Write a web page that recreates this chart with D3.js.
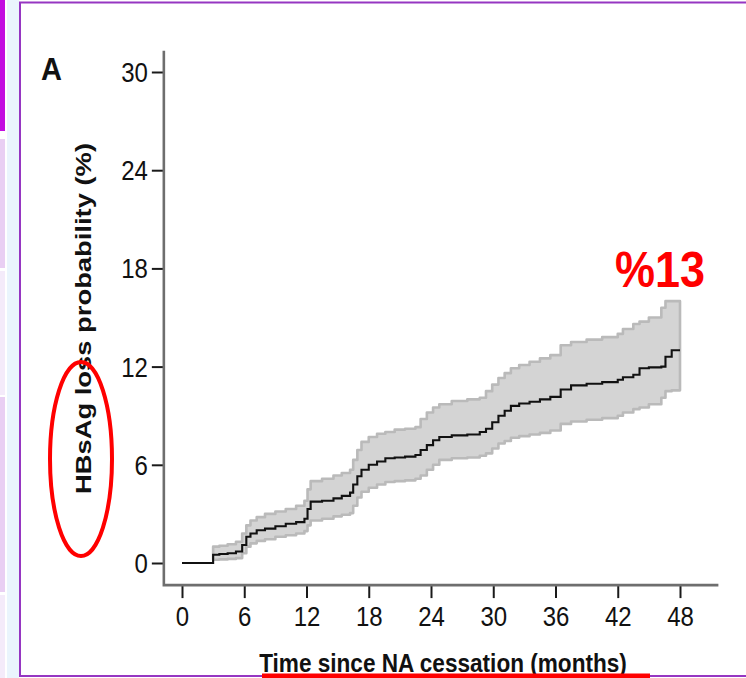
<!DOCTYPE html>
<html>
<head>
<meta charset="utf-8">
<script src="https://cdn.jsdelivr.net/npm/d3@7"></script>
<style>
  html, body { margin: 0; padding: 0; background: #fff; }
  svg { display: block; }
</style>
</head>
<body>
<svg id="chart" width="746" height="678"></svg>
<script>
// Kaplan-Meier cumulative probability of HBsAg loss (%), with 95% CI band
const months   = [0, 3.0, 3.6, 4.4, 5.2, 5.8, 6.2, 6.6, 7.2, 8.0, 9.0, 10.0, 11.0, 11.8, 12.1, 12.4, 13.5, 14.6, 15.4, 16.2, 16.5, 16.9, 17.3, 18.0, 18.8, 19.6, 20.5, 21.5, 22.5, 23.0, 23.6, 24.2, 24.8, 26.0, 27.5, 28.7, 29.3, 29.9, 30.5, 31.1, 31.7, 32.5, 33.5, 34.5, 35.5, 36.5, 37.5, 39.0, 40.5, 42.0, 42.5, 43.5, 44.1, 45.0, 46.2, 46.6, 47.2, 48.0];
const estimate = [0, 0.5, 0.55, 0.6, 0.7, 1.1, 1.6, 1.8, 2.0, 2.1, 2.25, 2.4, 2.5, 2.7, 3.3, 3.75, 3.8, 3.95, 4.1, 4.3, 4.8, 5.3, 5.7, 6.0, 6.2, 6.4, 6.45, 6.5, 6.6, 6.9, 7.2, 7.5, 7.7, 7.8, 7.85, 8.0, 8.2, 8.6, 9.0, 9.3, 9.6, 9.75, 9.85, 10.0, 10.15, 10.6, 10.85, 10.95, 11.05, 11.2, 11.35, 11.5, 11.9, 11.95, 12.0, 12.6, 13.0, 13.0];
const upper    = [0, 1.0, 1.05, 1.15, 1.3, 1.8, 2.3, 2.6, 2.8, 3.0, 3.15, 3.3, 3.5, 3.8, 4.5, 5.0, 5.15, 5.35, 5.5, 5.7, 6.3, 6.9, 7.4, 7.7, 7.9, 8.0, 8.15, 8.2, 8.3, 8.8, 9.2, 9.5, 9.7, 9.9, 10.0, 10.1, 10.5, 10.9, 11.3, 11.6, 11.9, 12.1, 12.3, 12.5, 12.7, 13.3, 13.5, 13.65, 13.8, 14.0, 14.3, 14.6, 14.75, 15.0, 15.6, 16.0, 16.0, 16.0];
const lower    = [0, 0.2, 0.22, 0.25, 0.3, 0.6, 1.0, 1.2, 1.35, 1.45, 1.6, 1.7, 1.8, 1.95, 2.3, 2.6, 2.7, 2.85, 2.95, 3.05, 3.5, 4.0, 4.35, 4.6, 4.8, 4.95, 5.0, 5.05, 5.15, 5.35, 5.7, 6.0, 6.3, 6.4, 6.45, 6.55, 6.7, 7.0, 7.3, 7.45, 7.65, 7.75, 7.85, 7.95, 8.1, 8.5, 8.65, 8.75, 8.85, 9.0, 9.2, 9.4, 9.5, 9.7, 10.1, 10.5, 10.55, 10.55];

const xTickValues = [0, 6, 12, 18, 24, 30, 36, 42, 48];
const yTickValues = [0, 6, 12, 18, 24, 30];

const panelLabel = "A";
const yTitle = "HBsAg loss probability (%)";
const xTitle = "Time since NA cessation (months)";
const finalLabel = "%13";

const svg = d3.select("#chart");
const W = 746, H = 678;
const stretch = 1.17;   // text in the figure is drawn slightly taller than wide

// ---- page chrome: side navigation strips and framed slide ----
const strips = [
  { y0: 0,   y1: 131, c: "#c20ce0" },
  { y0: 139, y1: 268, c: "#e9cff3" },
  { y0: 271, y1: 395, c: "#f4ebfa" },
  { y0: 397, y1: 592, c: "#e9cff3" },
  { y0: 595, y1: 678, c: "#f4ebfa" }
];
svg.selectAll("rect.strip").data(strips).join("rect")
  .attr("class", "strip")
  .attr("x", 0).attr("width", 5)
  .attr("y", d => d.y0).attr("height", d => d.y1 - d.y0)
  .attr("fill", d => d.c);
svg.append("rect").attr("x", 7).attr("y", 0).attr("width", 12).attr("height", H).attr("fill", "#eaf5fd");
svg.append("rect").attr("x", 20).attr("y", 2.5).attr("width", W - 18).attr("height", 673.5)
  .attr("fill", "#fff").attr("stroke", "#9636c2").attr("stroke-width", 2);

// ---- scales ----
const x = d3.scaleLinear().domain([0, 48]).range([182, 680]);
const y = d3.scaleLinear().domain([0, 30]).range([563, 72]);

const rows = months.map((t, i) => ({ t, est: estimate[i], hi: upper[i], lo: lower[i] }));

// ---- confidence band ----
const band = d3.area()
  .x(d => x(d.t)).y0(d => y(d.lo)).y1(d => y(d.hi))
  .curve(d3.curveStepAfter);
svg.append("path")
  .datum(rows.filter(d => d.t >= 3))
  .attr("d", band)
  .attr("fill", "#d4d4d4")
  .attr("stroke", "#bababa")
  .attr("stroke-width", 2.6)
  .attr("stroke-linejoin", "round");

// ---- survival-type step curve ----
const line = d3.line().x(d => x(d.t)).y(d => y(d.est)).curve(d3.curveStepAfter);
svg.append("path")
  .datum(rows)
  .attr("d", line)
  .attr("fill", "none")
  .attr("stroke", "#111")
  .attr("stroke-width", 2.1);

// ---- axes ----
const axisColor = "#6e6e6e";
const tickFont = "'Liberation Sans Narrow', 'Liberation Sans', Arial, sans-serif";

const yAxis = svg.append("g").attr("transform", `translate(${x(-1.75)},0)`)
  .call(d3.axisLeft(y).tickValues(yTickValues).tickSize(12).tickPadding(4).tickFormat(d3.format("d")));
yAxis.select(".domain").remove();
yAxis.selectAll(".tick line").attr("stroke", "#1a1a1a").attr("stroke-width", 2);
yAxis.selectAll(".tick text")
  .attr("font-family", tickFont).attr("font-size", 24).attr("fill", "#111")
  .attr("dy", "0.34em")
  .attr("transform", `scale(1,${stretch})`);

const xAxis = svg.append("g").attr("transform", `translate(0,${y(-1.35)})`)
  .call(d3.axisBottom(x).tickValues(xTickValues).tickSize(13).tickPadding(0).tickFormat(d3.format("d")));
xAxis.select(".domain").remove();
xAxis.selectAll(".tick line").attr("stroke", "#1a1a1a").attr("stroke-width", 2);
xAxis.selectAll(".tick text")
  .attr("font-family", tickFont).attr("font-size", 24).attr("fill", "#111")
  .attr("y", 0).attr("dy", "0.72em")
  .attr("transform", `translate(0,21) scale(1,${stretch})`);

// axis lines meeting in an L at the lower-left corner
svg.append("path")
  .attr("d", `M${x(-1.75)},${y(31.3)}V${y(-1.35)}H${x(51.7)}`)
  .attr("fill", "none").attr("stroke", axisColor).attr("stroke-width", 2.6);

// ---- titles ----
const boldFont = "'Liberation Sans', Arial, Helvetica, sans-serif";
svg.append("text")
  .attr("transform", `translate(91,318.5) rotate(-90) scale(1.2,1)`)
  .attr("text-anchor", "middle")
  .attr("font-family", boldFont).attr("font-weight", "bold").attr("font-size", 22.8)
  .attr("fill", "#111")
  .text(yTitle);

svg.append("text")
  .attr("transform", `translate(443,672) scale(1,${stretch})`)
  .attr("text-anchor", "middle")
  .attr("font-family", boldFont).attr("font-weight", "bold").attr("font-size", 22.6)
  .attr("fill", "#111")
  .text(xTitle);

svg.append("text")
  .attr("transform", `translate(41,80) scale(1,1.1)`)
  .attr("font-family", boldFont).attr("font-weight", "bold").attr("font-size", 29)
  .attr("fill", "#111")
  .text(panelLabel);

// ---- annotations ----
const last = rows[rows.length - 1];
svg.append("text")
  .attr("transform", `translate(${x(last.t) + 25},287) scale(1,1.12)`)
  .attr("text-anchor", "end")
  .attr("font-family", boldFont).attr("font-weight", "bold").attr("font-size", 45)
  .attr("fill", "#ff0000")
  .text(finalLabel);

svg.append("ellipse")
  .attr("cx", 81).attr("cy", 459).attr("rx", 31).attr("ry", 97)
  .attr("fill", "none").attr("stroke", "#ff0000").attr("stroke-width", 4);

svg.append("rect")
  .attr("x", 262).attr("y", 673.5).attr("width", 388).attr("height", 4.5)
  .attr("fill", "#ff0000");
</script>
</body>
</html>
